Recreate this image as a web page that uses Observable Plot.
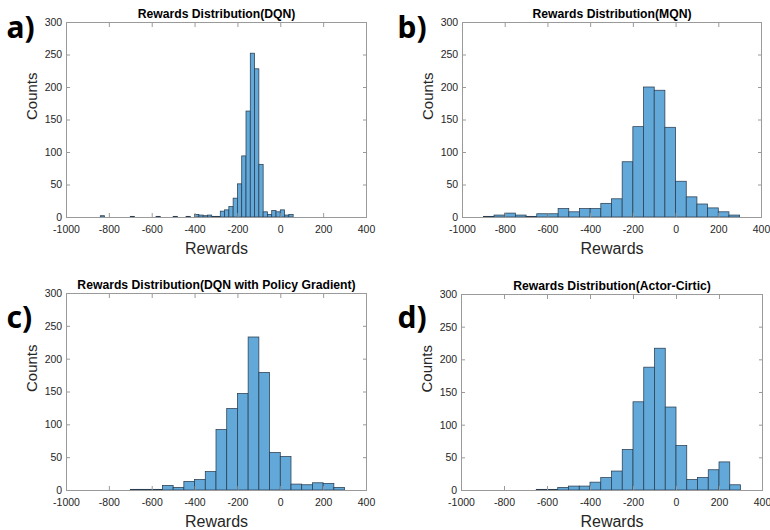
<!DOCTYPE html>
<html>
<head>
<meta charset="utf-8">
<script src="https://cdn.jsdelivr.net/npm/d3@7"></script>
<script src="https://cdn.jsdelivr.net/npm/@observablehq/plot@0.6"></script>
<style>
  body { margin: 0; background: #fff; }
  #fig { position: relative; width: 770px; height: 530px; background: #fff; }
</style>
</head>
<body>
<div id="fig"></div>
<script>
// ---- tick values ----
const xTicks = [-1000, -800, -600, -400, -200, 0, 200, 400];
const yTicks = [0, 50, 100, 150, 200, 250, 300];

// ---- panel texts ----
const panelLetters = ["a)", "b)", "c)", "d)"];
const panelTitles = [
  "Rewards Distribution(DQN)",
  "Rewards Distribution(MQN)",
  "Rewards Distribution(DQN with Policy Gradient)",
  "Rewards Distribution(Actor-Cirtic)"
];
const xLabel = "Rewards";
const yLabel = "Counts";

// ---- a) DQN: bin lower edges (width 20) and counts ----
const dqnBinWidth = 20;
const dqnLo = [-840, -700, -580, -500, -440, -400, -380, -360, -340, -320, -300,
  -280, -260, -240, -220, -200, -180, -160, -140, -120, -100, -80, -60, -40, -20, 0, 20, 40];
const dqnCounts = [2, 1, 1, 1, 1, 4, 3, 2, 3, 1, 1,
  9, 11, 16, 29, 51, 94, 163, 252, 228, 81, 8, 4, 10, 8, 11, 3, 4];

// ---- b) MQN: bin lower edges (width 50) and counts ----
const mqnBinWidth = 50;
const mqnLo = [-900, -850, -800, -750, -700, -650, -600, -550, -500, -450, -400, -350,
  -300, -250, -200, -150, -100, -50, 0, 50, 100, 150, 200, 250];
const mqnCounts = [1, 3, 6, 3, 1, 5, 5, 13, 8, 13, 13, 21,
  28, 85, 139, 200, 195, 138, 55, 31, 20, 14, 8, 3];

// ---- c) DQN with Policy Gradient (width 50) ----
const pgBinWidth = 50;
const pgLo = [-700, -650, -600, -550, -500, -450, -400, -350, -300, -250,
  -200, -150, -100, -50, 0, 50, 100, 150, 200, 250];
const pgCounts = [1, 1, 1, 7, 4, 13, 16, 28, 92, 124,
  147, 233, 179, 57, 51, 9, 8, 11, 10, 4];

// ---- d) Actor-Critic (width 50) ----
const acBinWidth = 50;
const acLo = [-650, -600, -550, -500, -450, -400, -350, -300, -250, -200,
  -150, -100, -50, 0, 50, 100, 150, 200, 250];
const acCounts = [1, 1, 4, 6, 6, 12, 19, 29, 62, 135,
  188, 217, 127, 68, 16, 19, 31, 43, 8];

const FONT = "'Liberation Sans', Arial, Helvetica, sans-serif";
const FILL = "#62a8d8";
const EDGE = "#2a3d50";
const AXIS = "#9a9a9a";
const TEXT = "#262626";
const plainNum = d => String(d);

function panel(cfg) {
  const {lo, counts, binWidth, title, letter, left, top, mL, mR, mT, mB, letterX, letterY} = cfg;
  const W = 385, H = 265;
  const bins = lo.map((x, i) => ({x1: x, x2: x + binWidth, count: counts[i]}));
  const chart = Plot.plot({
    width: W, height: H,
    marginLeft: mL, marginRight: mR, marginTop: mT, marginBottom: mB,
    x: {domain: [-1000, 400]},
    y: {domain: [0, 300]},
    style: {fontFamily: FONT, fontSize: "10.5px", color: TEXT, background: "transparent", overflow: "visible"},
    marks: [
      Plot.rectY(bins, {x1: "x1", x2: "x2", y: "count", fill: FILL, stroke: EDGE, strokeWidth: 0.75}),
      Plot.frame({stroke: AXIS}),
      Plot.axisX(xTicks, {anchor: "bottom", tickSize: -4, tickPadding: 12.5, tickFormat: plainNum, stroke: AXIS, fill: TEXT, label: null}),
      Plot.axisX(xTicks, {anchor: "top", tickSize: -4, tickFormat: () => "", stroke: AXIS, label: null}),
      Plot.axisY(yTicks, {anchor: "left", tickSize: -4, tickPadding: 8.3, tickFormat: plainNum, stroke: AXIS, fill: TEXT, label: null}),
      Plot.axisY(yTicks, {anchor: "right", tickSize: -4, tickFormat: () => "", stroke: AXIS, label: null}),
      Plot.text([title], {frameAnchor: "top", lineAnchor: "bottom", dy: -5, fontWeight: "bold", fontSize: 12.2, fill: "#000"}),
      Plot.text([yLabel], {frameAnchor: "left", rotate: -90, dx: -34, fontSize: 15, fill: TEXT}),
      Plot.text([xLabel], {frameAnchor: "bottom", lineAnchor: "bottom", dy: 36, fontSize: 16, fill: TEXT}),
      Plot.text([letter], {frameAnchor: "top-left", textAnchor: "start", lineAnchor: "bottom",
        dx: letterX - (left + mL), dy: letterY - (top + mT),
        fontFamily: "'Noto Sans', 'Open Sans', sans-serif", fontWeight: "bold", fontSize: 30, fill: "#000"})
    ]
  });
  chart.style.position = "absolute";
  chart.style.left = left + "px";
  chart.style.top = top + "px";
  document.getElementById("fig").appendChild(chart);
}

panel({lo: dqnLo, counts: dqnCounts, binWidth: dqnBinWidth, title: panelTitles[0], letter: panelLetters[0],
  left: 0, top: 0, mL: 66, mR: 19, mT: 22, mB: 48, letterX: 6, letterY: 37});
panel({lo: mqnLo, counts: mqnCounts, binWidth: mqnBinWidth, title: panelTitles[1], letter: panelLetters[1],
  left: 385, top: 0, mL: 77, mR: 9, mT: 22, mB: 48, letterX: 397, letterY: 37});
panel({lo: pgLo, counts: pgCounts, binWidth: pgBinWidth, title: panelTitles[2], letter: panelLetters[2],
  left: 0, top: 265, mL: 66, mR: 19, mT: 28, mB: 40, letterX: 6, letterY: 327});
panel({lo: acLo, counts: acCounts, binWidth: acBinWidth, title: panelTitles[3], letter: panelLetters[3],
  left: 385, top: 265, mL: 76, mR: 8, mT: 29, mB: 40, letterX: 397, letterY: 327});
</script>
</body>
</html>
